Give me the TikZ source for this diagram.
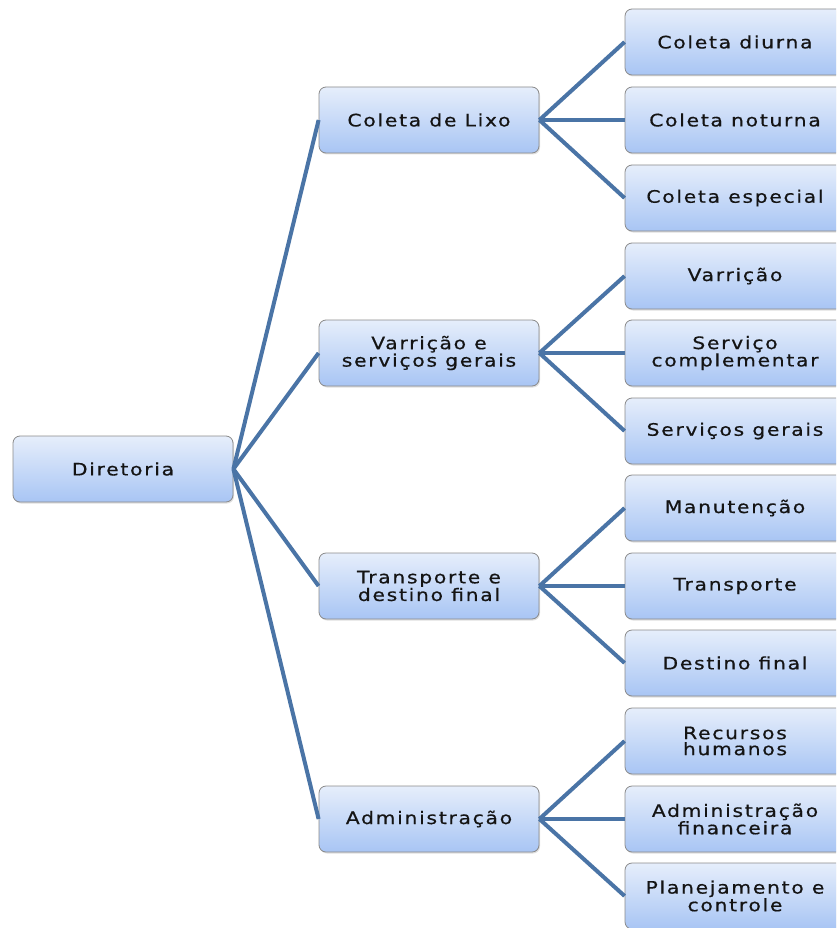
\documentclass[tikz,border=0pt]{standalone}
\usepackage{fontspec}
\setmainfont[LetterSpace=10,FakeStretch=1.18,FakeBold=0.6]{DejaVu Sans}
\usetikzlibrary{shadows}
\definecolor{linkblue}{HTML}{4A74A6}
\definecolor{boxtop}{HTML}{E6EEFB}
\definecolor{boxbot}{HTML}{A8C5F4}
\definecolor{boxline}{HTML}{8A8A8A}
\tikzset{
  orgbox/.style={draw=boxline, line width=0.8pt, rounded corners=7pt,
    top color=boxtop, bottom color=boxbot, minimum width=220pt,
    minimum height=66pt, inner sep=2pt, align=center,
    font=\fontsize{17.2}{16}\selectfont, text=black!92,
    drop shadow={shadow xshift=1pt, shadow yshift=-1.5pt, opacity=0.25}},
  link/.style={draw=linkblue, line width=4pt}
}
\begin{document}
\begin{tikzpicture}[x=1pt,y=-1pt]
\useasboundingbox (0,0) rectangle (836,928);
\clip (0,0) rectangle (836,928);
% root
\node[orgbox] (dir) at (123,469) {Diretoria};
% level 1
\node[orgbox] (c1) at (429,120) {Coleta de Lixo};
\node[orgbox] (c2) at (429,353) {Varrição e\\serviços gerais};
\node[orgbox] (c3) at (429,586) {Transporte e\\destino final};
\node[orgbox] (c4) at (429,819) {Administração};
% level 2
\node[orgbox] (d1) at (735,42) {Coleta diurna};
\node[orgbox] (d2) at (735,120) {Coleta noturna};
\node[orgbox] (d3) at (735,198) {Coleta especial};
\node[orgbox] (d4) at (735,276) {Varrição};
\node[orgbox] (d5) at (735,353) {Serviço\\complementar};
\node[orgbox] (d6) at (735,431) {Serviços gerais};
\node[orgbox] (d7) at (735,508) {Manutenção};
\node[orgbox] (d8) at (735,586) {Transporte};
\node[orgbox] (d9) at (735,663) {Destino final};
\node[orgbox] (d10) at (735,741) {Recursos\\humanos};
\node[orgbox] (d11) at (735,819) {Administração\\financeira};
\node[orgbox] (d12) at (735,896) {Planejamento e\\controle};
% connectors
\foreach \c in {c1,c2,c3,c4}{\draw[link] (dir.east) -- (\c.west);}
\foreach \d in {d1,d2,d3}{\draw[link] (c1.east) -- (\d.west);}
\foreach \d in {d4,d5,d6}{\draw[link] (c2.east) -- (\d.west);}
\foreach \d in {d7,d8,d9}{\draw[link] (c3.east) -- (\d.west);}
\foreach \d in {d10,d11,d12}{\draw[link] (c4.east) -- (\d.west);}
\end{tikzpicture}
\end{document}
